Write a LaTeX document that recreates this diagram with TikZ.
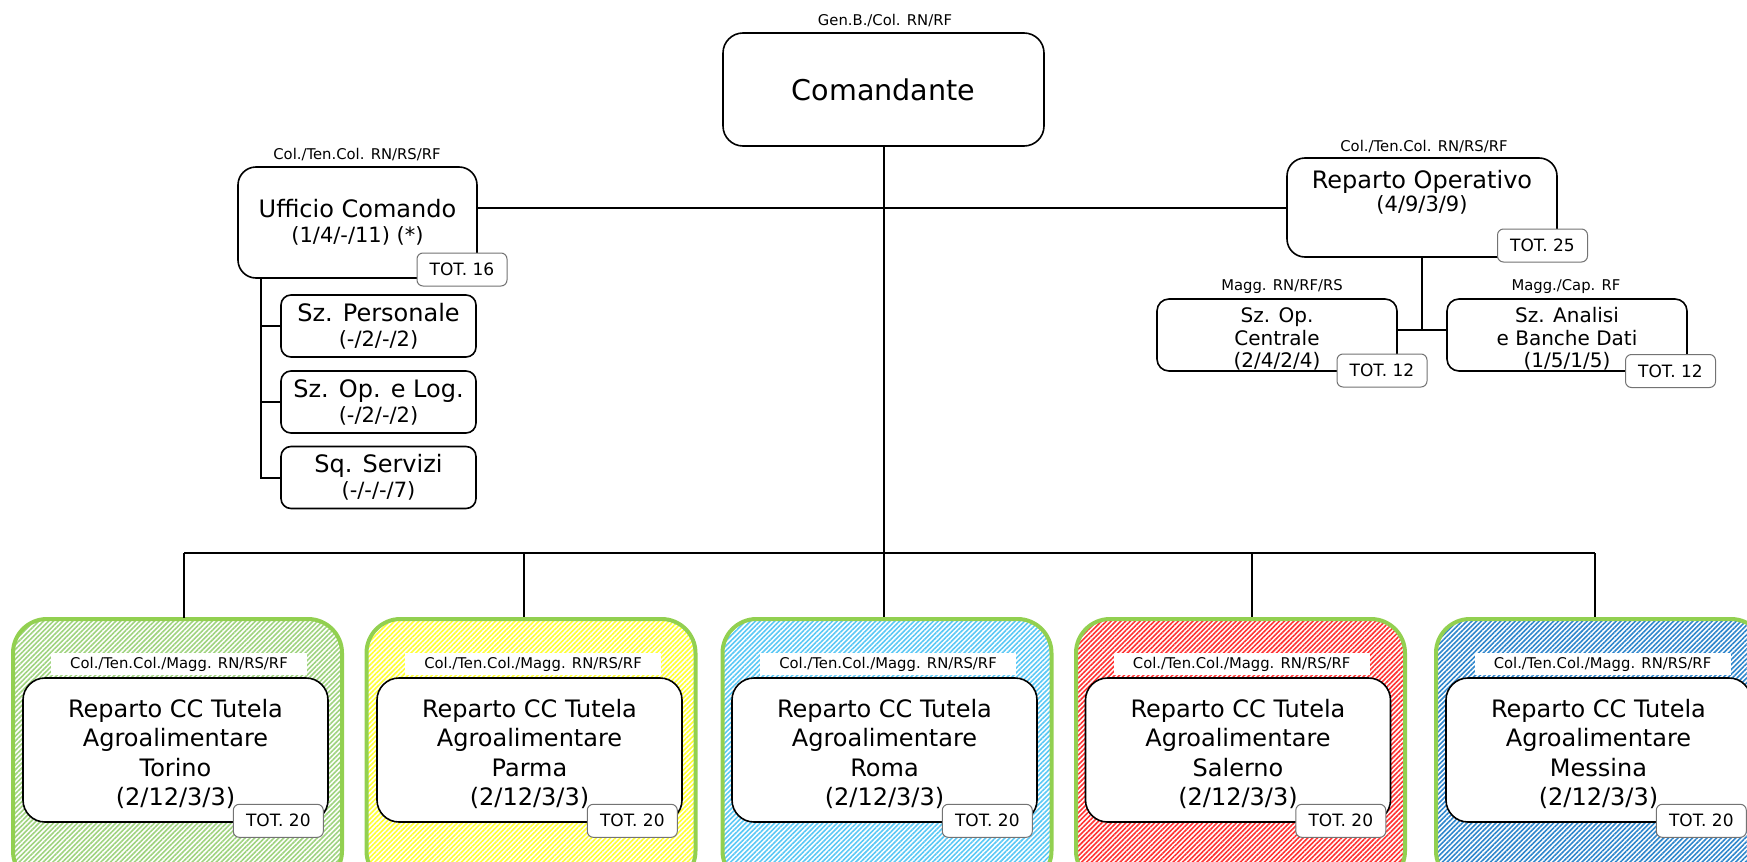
\documentclass[tikz,border=0pt]{standalone}
\usepackage{fontspec}
\setmainfont{DejaVu Sans}
\usetikzlibrary{patterns.meta}
\definecolor{lgreen}{HTML}{92D050}
\definecolor{torinocol}{HTML}{9FD37F}
\definecolor{parmacol}{HTML}{FFFF33}
\definecolor{romacol}{HTML}{5BC8F5}
\definecolor{salernocol}{HTML}{FF3333}
\definecolor{messinacol}{HTML}{2F86CC}
\tikzstyle{cmdbox}=[rectangle,draw=black,line width=0.8pt,rounded corners=10pt,fill=white,minimum width=160.5pt,minimum height=56.5pt,font=\fontsize{14.3}{16}\selectfont]
\tikzstyle{office}=[rectangle,draw=black,line width=0.8pt,rounded corners=9pt,fill=white,align=center,font=\fontsize{12}{12.5}\selectfont]
\tikzstyle{section}=[rectangle,draw=black,line width=0.8pt,rounded corners=5pt,fill=white,align=center,minimum width=97.5pt,minimum height=31pt,font=\fontsize{12}{12.5}\selectfont]
\tikzstyle{smallsec}=[rectangle,draw=black,line width=0.8pt,rounded corners=6pt,fill=white,align=center,inner sep=0pt,minimum width=120pt,minimum height=36pt,font=\fontsize{10}{11.25}\selectfont]
\tikzstyle{total}=[rectangle,draw=black!55,line width=0.5pt,rounded corners=3pt,fill=white,minimum width=45pt,minimum height=16.5pt,inner sep=0pt,font=\fontsize{8.5}{10}\selectfont]
\tikzstyle{rank}=[inner sep=0pt,font=\fontsize{7.4}{9}\selectfont]
\tikzstyle{rankbg}=[rank,fill=white,minimum width=128pt,minimum height=11pt]
\tikzstyle{unit}=[rectangle,draw=lgreen,line width=2pt,rounded corners=17pt,minimum width=164.5pt,minimum height=133pt,pattern={Lines[angle=45,distance=1.7pt,line width=0.8pt]}]
\tikzstyle{reparto}=[rectangle,draw=black,line width=0.8pt,rounded corners=11pt,fill=white,align=center,inner sep=0pt,minimum width=152.5pt,minimum height=72pt,font=\fontsize{12}{14.6}\selectfont]
\tikzstyle{link}=[line width=1pt]
\newcommand{\figs}[1]{{\fontsize{10.5}{12}\selectfont #1}}
\newcommand{\padtop}[1]{\rule{0pt}{#1}}

\begin{document}
\begin{tikzpicture}[x=0.5pt,y=-0.5pt]
        \useasboundingbox (0,0) rectangle (1747,862);
        \clip (0,0) rectangle (1747,862);

        % comando
        \node[rank] (cmdrank) at (885,21) {Gen.B./Col. RN/RF};
        \node[cmdbox] (cmd) at (883.5,89.5) {Comandante};

        % ufficio comando
        \node[rank] (uffrank) at (357,155) {Col./Ten.Col. RN/RS/RF};
        \node[office,minimum width=119.5pt,minimum height=55.5pt] (uff) at (357.5,222.5)
            {Ufficio Comando\\\figs{(1/4/-/11) (*)}};
        \node[total] (ufftot) at (462,269.5) {TOT. 16};
        \node[section] (pers) at (378.5,326) {Sz. Personale\\\figs{(-/2/-/2)}};
        \node[section] (oplog) at (378.5,402) {Sz. Op. e Log.\\\figs{(-/2/-/2)}};
        \node[section] (serv) at (378.5,477.5) {Sq. Servizi\\\figs{(-/-/-/7)}};
        \coordinate (trunk) at (261,400);

        % reparto operativo
        \node[rank] (operrank) at (1424,147) {Col./Ten.Col. RN/RS/RF};
        \node[office,minimum width=135pt,minimum height=49.5pt] (oper) at (1422,207.5) {};
        \node[office,draw=none,fill=none,inner sep=0pt,anchor=north,font=\fontsize{12}{11.5}\selectfont] (opertxt) at (1422,169)
            {Reparto Operativo\\\figs{(4/9/3/9)}};
        \node[total] (opertot) at (1542.5,245.5) {TOT. 25};
        \node[rank] (soprank) at (1282,287) {Magg. RN/RF/RS};
        \node[smallsec] (sop) at (1277,335) {\padtop{11.6pt}Sz. Op.\\Centrale\\(2/4/2/4)};
        \node[total] (soptot) at (1382,370.5) {TOT. 12};
        \node[rank] (sanrank) at (1566,287) {Magg./Cap. RF};
        \node[smallsec] (san) at (1567,335) {\padtop{11.6pt}Sz. Analisi\\e Banche Dati\\(1/5/1/5)};
        \node[total] (santot) at (1670.5,371) {TOT. 12};
        \coordinate (sjoin) at (1422,330);

        % reparti territoriali
        \node[unit,pattern color=torinocol] (torino) at (177.5,752) {};
        \node[rankbg] (torinorank) at (179,664) {Col./Ten.Col./Magg. RN/RS/RF};
        \node[reparto] (torinorep) at (175.5,750) {\padtop{13.1pt}Reparto CC Tutela\\Agroalimentare\\Torino\\(2/12/3/3)};
        \node[total,anchor=south east] (torinotot) at ([shift={(-5,15)}]torinorep.south east) {TOT. 20};

        \node[unit,pattern color=parmacol] (parma) at (531,752) {};
        \node[rankbg] (parmarank) at (533,664) {Col./Ten.Col./Magg. RN/RS/RF};
        \node[reparto] (parmarep) at (529.5,750) {\padtop{13.1pt}Reparto CC Tutela\\Agroalimentare\\Parma\\(2/12/3/3)};
        \node[total,anchor=south east] (parmatot) at ([shift={(-5,15)}]parmarep.south east) {TOT. 20};

        \node[unit,pattern color=romacol] (roma) at (887,752) {};
        \node[rankbg] (romarank) at (888,664) {Col./Ten.Col./Magg. RN/RS/RF};
        \node[reparto] (romarep) at (884.5,750) {\padtop{13.1pt}Reparto CC Tutela\\Agroalimentare\\Roma\\(2/12/3/3)};
        \node[total,anchor=south east] (romatot) at ([shift={(-5,15)}]romarep.south east) {TOT. 20};

        \node[unit,pattern color=salernocol] (salerno) at (1240.5,752) {};
        \node[rankbg] (salernorank) at (1241.7,664) {Col./Ten.Col./Magg. RN/RS/RF};
        \node[reparto] (salernorep) at (1238,750) {\padtop{13.1pt}Reparto CC Tutela\\Agroalimentare\\Salerno\\(2/12/3/3)};
        \node[total,anchor=south east] (salernotot) at ([shift={(-5,15)}]salernorep.south east) {TOT. 20};

        \node[unit,pattern color=messinacol] (messina) at (1600.5,752) {};
        \node[rankbg] (messinarank) at (1602.5,664) {Col./Ten.Col./Magg. RN/RS/RF};
        \node[reparto] (messinarep) at (1598.5,750) {\padtop{13.1pt}Reparto CC Tutela\\Agroalimentare\\Messina\\(2/12/3/3)};
        \node[total,anchor=south east] (messinatot) at ([shift={(-5,15)}]messinarep.south east) {TOT. 20};

        \coordinate (bar1) at (184,553);
        \coordinate (bar2) at (524,553);
        \coordinate (bar4) at (1252,553);
        \coordinate (bar5) at (1595,553);

        % collegamenti
        \draw[link] (oper.west) -- (oper.west -| uff.east);
        \draw[link] (uff.south -| trunk) |- (serv.west);
        \draw[link] (pers.west) -- (pers.west -| trunk);
        \draw[link] (oplog.west) -- (oplog.west -| trunk);
        \draw[link] (oper.south) -- (sjoin);
        \draw[link] (sjoin -| sop.east) -- (sjoin -| san.west);
        \draw[link] (cmd.south) -- (cmd.south |- roma.north);
        \draw[link] (bar1) -- (bar5);
        \draw[link] (bar1) -- (bar1 |- torino.north);
        \draw[link] (bar2) -- (bar2 |- parma.north);
        \draw[link] (bar4) -- (bar4 |- salerno.north);
        \draw[link] (bar5) -- (bar5 |- messina.north);
    \end{tikzpicture}
\end{document}
